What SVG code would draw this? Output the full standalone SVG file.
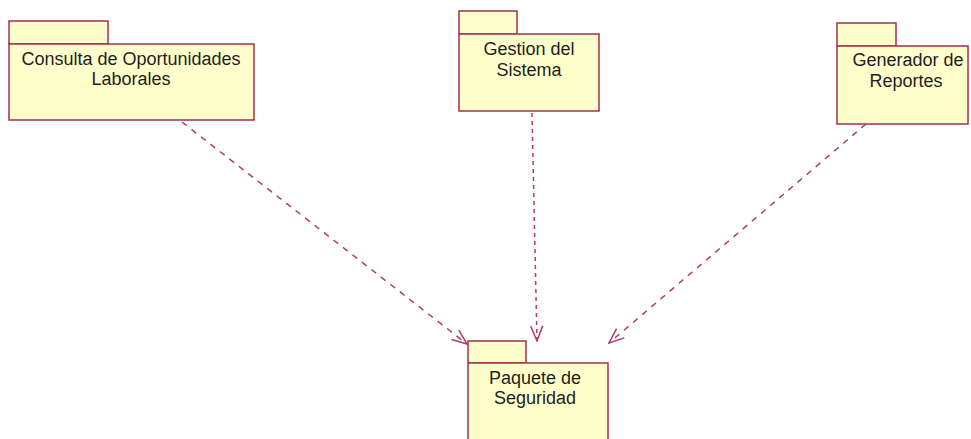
<svg xmlns="http://www.w3.org/2000/svg" width="971" height="439" viewBox="0 0 971 439">
<style>
.pk{fill:#ffffcc;stroke:#a3304f;stroke-width:1.5}
.lbl{font-family:"Liberation Sans",Arial,sans-serif;font-size:18px;fill:#1e1e1e;text-anchor:middle}
.dep{fill:none;stroke:#b03c6a;stroke-width:1.5}
</style>
<defs>
<marker id="open" viewBox="0 0 17 14" refX="16" refY="7" markerWidth="17" markerHeight="14" markerUnits="userSpaceOnUse" orient="auto">
<path d="M1,1 L16,7 L1,13" fill="none" stroke="#b03c6a" stroke-width="1.5"/>
</marker>
</defs>
<rect width="971" height="439" fill="#ffffff"/>
<g id="connectors">
<line class="dep" x1="182" y1="122" x2="467" y2="344" stroke-dasharray="6 6" marker-end="url(#open)"/>
<line class="dep" x1="532" y1="113" x2="537" y2="341" stroke-dasharray="4 4" marker-end="url(#open)"/>
<line class="dep" x1="866" y1="124" x2="609" y2="343" stroke-dasharray="6 6" marker-end="url(#open)"/>
</g>
<g id="consulta">
<rect class="pk" x="9" y="21" width="99" height="23"/>
<rect class="pk" x="9" y="44" width="245" height="76"/>
<text class="lbl" x="131" y="65">Consulta de Oportunidades</text>
<text class="lbl" x="131" y="85">Laborales</text>
</g>
<g id="gestion">
<rect class="pk" x="459" y="11" width="58" height="23"/>
<rect class="pk" x="459" y="34" width="140" height="77"/>
<text class="lbl" x="529" y="55">Gestion del</text>
<text class="lbl" x="529" y="76">Sistema</text>
</g>
<g id="generador">
<rect class="pk" x="837" y="23" width="59" height="23"/>
<rect class="pk" x="837" y="46" width="131" height="78"/>
<text class="lbl" x="908" y="66">Generador de</text>
<text class="lbl" x="906" y="87">Reportes</text>
</g>
<g id="seguridad">
<rect class="pk" x="468" y="341" width="58" height="22"/>
<rect class="pk" x="468" y="363" width="140" height="80"/>
<text class="lbl" x="535" y="384">Paquete de</text>
<text class="lbl" x="535" y="404">Seguridad</text>
</g>
</svg>
